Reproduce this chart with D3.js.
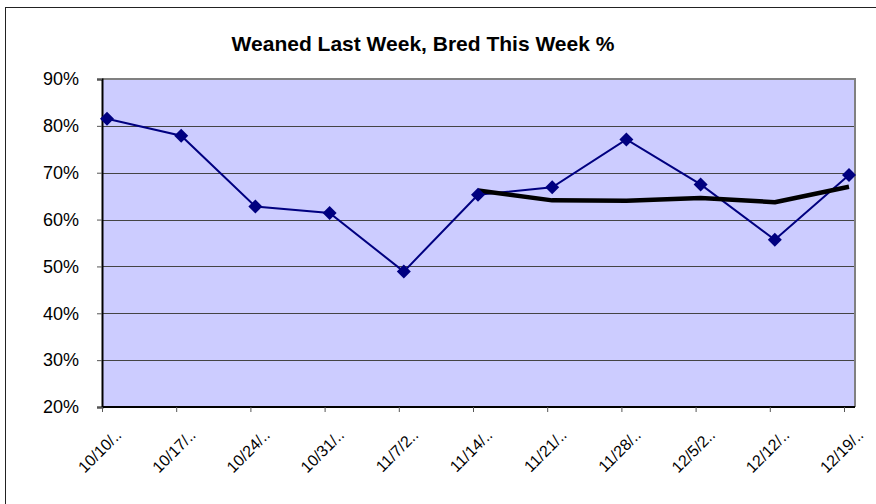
<!DOCTYPE html>
<html>
<head>
<meta charset="utf-8">
<script src="https://cdn.jsdelivr.net/npm/d3@7"></script>
<style>
  body { margin: 0; background: #fff; }
  text { font-family: "Liberation Sans", Arial, sans-serif; fill: #000; }
</style>
</head>
<body>
<div id="chart"></div>
<script>
// Data
const weeks = ["10/10/..", "10/17/..", "10/24/..", "10/31/..", "11/7/2..", "11/14/..",
               "11/21/..", "11/28/..", "12/5/2..", "12/12/..", "12/19/.."];
const bredPct = [81.5, 77.9, 62.8, 61.4, 48.9, 65.3, 66.9, 77.1, 67.5, 55.7, 69.5];
const trendPct = [null, null, null, null, null, 66.2, 64.1, 64.0, 64.6, 63.7, 67.0];
const yTicks = [20, 30, 40, 50, 60, 70, 80, 90];

const width = 876;
const height = 504;
const plot = { left: 102, top: 79, right: 855, bottom: 407 };

const svg = d3.select("#chart")
    .append("svg")
    .attr("width", width)
    .attr("height", height);

// outer chart frame (right/bottom fall outside the picture)
svg.append("rect")
    .attr("x", 5.5).attr("y", 7.5)
    .attr("width", width).attr("height", height)
    .attr("fill", "none")
    .attr("stroke", "#222");

// Title
svg.append("text")
    .attr("x", 423)
    .attr("y", 51)
    .attr("text-anchor", "middle")
    .style("font-size", "21px")
    .style("font-weight", "bold")
    .text("Weaned Last Week, Bred This Week %");

// Scales
const y = d3.scaleLinear()
    .domain([20, 90])
    .range([plot.bottom, plot.top]);

// axis ticks sit on category positions; Excel draws the markers a few px to the right
const xAxisScale = d3.scalePoint()
    .domain(weeks)
    .range([plot.left, 844]);
const x = d3.scalePoint()
    .domain(weeks)
    .range([plot.left + 5, 849]);

// Plot background
svg.append("rect")
    .attr("x", plot.left)
    .attr("y", plot.top)
    .attr("width", plot.right - plot.left)
    .attr("height", plot.bottom - plot.top)
    .attr("fill", "#ccccff");

// Gridlines
svg.append("g")
    .selectAll("line")
    .data(yTicks.filter(d => d > 20 && d < 90))
    .join("line")
    .attr("x1", plot.left)
    .attr("x2", plot.right)
    .attr("y1", d => Math.round(y(d)) + 0.5)
    .attr("y2", d => Math.round(y(d)) + 0.5)
    .attr("stroke", "#444")
    .attr("stroke-width", 1);

// gray frame on top and right
svg.append("path")
    .attr("d", `M${plot.left},${plot.top} H${plot.right} V${plot.bottom}`)
    .attr("fill", "none")
    .attr("stroke", "#808080")
    .attr("stroke-width", 2);

// Y axis
const yAxis = d3.axisLeft(y)
    .tickValues(yTicks)
    .tickSize(5)
    .tickPadding(18)
    .tickFormat(d => d + "%");

const yG = svg.append("g")
    .attr("transform", `translate(${plot.left},0)`)
    .call(yAxis);
yG.select(".domain").attr("stroke", "#000").attr("stroke-width", 2);
yG.selectAll(".tick line").attr("stroke", "#555");
yG.selectAll(".tick text")
    .style("font-size", "18px")
    .style("font-family", "'Liberation Sans', Arial, sans-serif");

// X axis
const xAxis = d3.axisBottom(xAxisScale)
    .tickSize(5)
    .tickSizeOuter(0);

const xG = svg.append("g")
    .attr("transform", `translate(0,${plot.bottom})`)
    .call(xAxis);
xG.select(".domain")
    .attr("d", `M${plot.left},0H${plot.right}`)
    .attr("stroke", "#000").attr("stroke-width", 2);
xG.selectAll(".tick line").attr("stroke", "#555");
xG.selectAll(".tick text")
    .attr("text-anchor", "end")
    .attr("dy", null)
    .attr("y", 0)
    .attr("transform", "translate(20,29) rotate(-45)")
    .style("font-size", "16px")
    .style("font-family", "'Liberation Sans', Arial, sans-serif");

// Main series line
const line = d3.line()
    .defined(d => d[1] != null)
    .x(d => x(d[0]))
    .y(d => y(d[1]));

svg.append("path")
    .datum(weeks.map((w, i) => [w, bredPct[i]]))
    .attr("fill", "none")
    .attr("stroke", "#000080")
    .attr("stroke-width", 2)
    .attr("d", line);

// Trend line (thick black)
svg.append("path")
    .datum(weeks.map((w, i) => [w, trendPct[i]]))
    .attr("fill", "none")
    .attr("stroke", "#000")
    .attr("stroke-width", 4.5)
    .attr("stroke-linejoin", "round")
    .attr("d", line);

// Diamond markers
const r = 7;
svg.append("g")
    .selectAll("path")
    .data(weeks.map((w, i) => [w, bredPct[i]]))
    .join("path")
    .attr("d", d => {
        const cx = x(d[0]), cy = y(d[1]);
        return `M${cx},${cy - r}L${cx + r},${cy}L${cx},${cy + r}L${cx - r},${cy}Z`;
    })
    .attr("fill", "#000080");
</script>
</body>
</html>
